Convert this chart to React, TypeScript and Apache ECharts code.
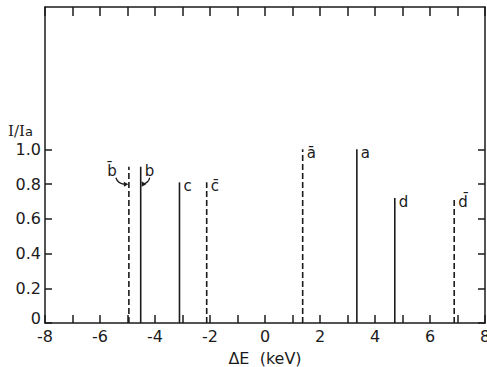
import React, { useEffect, useRef } from "react";
import * as echarts from "echarts";

// Line positions (keV), relative intensities, labels and line style
const energies = [-4.95, -4.52, -3.11, -2.12, 1.37, 3.34, 4.72, 6.88];
const intensities = [0.9, 0.9, 0.81, 0.81, 1.0, 1.0, 0.72, 0.72];
const lineLabels = ["b\u0304", "b", "c", "c\u0304", "a\u0304", "a", "d", "d\u0304"];
const isDashed = [true, false, false, true, true, false, false, true];

const yTicks = [0, 0.2, 0.4, 0.6, 0.8, 1.0];

const INK = "#1b1b1b";
const FONT = "DejaVu Sans";

export default function App() {
  const ref = useRef<HTMLDivElement>(null);
  useEffect(() => {
    if (!ref.current) return;
    const chart = echarts.init(ref.current, undefined, { renderer: "svg" });
    const data = energies.map((e, i) => [e, intensities[i]]);
    const axisLine = { show: true, onZero: false, lineStyle: { color: INK, width: 1.5 } };
    const tickStyle = { color: INK, width: 1.5 };
    chart.setOption({
      animation: false,
      backgroundColor: "#ffffff",
      grid: { left: 45, right: 2, top: 7, bottom: 44, outerBoundsMode: "none", containLabel: false },
      xAxis: [
        {
          type: "value",
          min: -8,
          max: 8,
          interval: 1,
          position: "bottom",
          axisLine,
          splitLine: { show: false },
          axisTick: { show: true, inside: true, length: 8, lineStyle: tickStyle },
          axisLabel: {
            show: true,
            margin: 5,
            color: INK,
            fontFamily: FONT,
            fontSize: 16,
            formatter: (v: number) => (Math.round(v) % 2 === 0 ? String(v) : ""),
          },
          name: "\u0394E  (keV)",
          nameLocation: "middle",
          nameGap: 27,
          nameTextStyle: { color: INK, fontFamily: FONT, fontSize: 16 },
        },
        {
          type: "value",
          min: -8,
          max: 8,
          interval: 1,
          position: "top",
          axisLine,
          splitLine: { show: false },
          axisTick: { show: true, inside: true, length: 9, lineStyle: tickStyle },
          axisLabel: { show: false },
        },
      ],
      yAxis: [
        {
          type: "value",
          min: 0,
          max: 1.82,
          position: "left",
          axisLine,
          splitLine: { show: false },
          axisTick: { show: true, inside: true, length: 7, customValues: yTicks, lineStyle: tickStyle },
          axisLabel: {
            show: true,
            customValues: yTicks,
            margin: 4,
            color: INK,
            fontFamily: FONT,
            fontSize: 16,
            formatter: (v: number) => (v === 0 ? "{z|0}" : v.toFixed(1)),
            rich: {
              z: { fontFamily: FONT, fontSize: 16, color: INK, padding: [0, 0, 9, 0] },
            },
          },
        },
        {
          type: "value",
          min: 0,
          max: 1.82,
          position: "right",
          axisLine,
          splitLine: { show: false },
          axisTick: { show: true, inside: true, length: 7, customValues: yTicks, lineStyle: tickStyle },
          axisLabel: { show: false },
        },
      ],
      graphic: [
        {
          type: "text",
          left: 8,
          top: 123,
          style: {
            text: "{n|I/I}{s|a}",
            rich: {
              n: { fontFamily: "DejaVu Serif", fontSize: 15, fill: INK, verticalAlign: "bottom" },
              s: { fontFamily: FONT, fontSize: 13, fill: INK, padding: [6, 0, 0, 0] },
            },
          },
        },
      ],
      series: [
        {
          type: "custom",
          xAxisIndex: 0,
          yAxisIndex: 0,
          data,
          clip: false,
          renderItem: (params: any, api: any) => {
            const i = params.dataIndex;
            const x = api.value(0);
            const y = api.value(1);
            const base = api.coord([x, 0]);
            const top = api.coord([x, y]);
            const dashed = isDashed[i];
            const children: any[] = [
              {
                type: "line",
                shape: { x1: base[0], y1: base[1], x2: top[0], y2: top[1] },
                style: {
                  stroke: INK,
                  lineWidth: 1.6,
                  lineDash: dashed ? [6, 3] : null,
                },
              },
            ];
            const label = lineLabels[i];
            const textStyle = (dx: number, align: string) => ({
              type: "text",
              style: {
                text: label,
                x: top[0] + dx,
                y: top[1] + 4,
                align,
                verticalAlign: "middle",
                fontFamily: FONT,
                fontSize: 15,
                fill: INK,
              },
            });
            if (i === 0) {
              children.push(textStyle(-12, "right"));
              children.push({
                type: "bezierCurve",
                shape: {
                  x1: top[0] - 13, y1: top[1] + 11,
                  x2: top[0] - 3, y2: top[1] + 17.5,
                  cpx1: top[0] - 11, cpy1: top[1] + 17.5,
                },
                style: { stroke: INK, lineWidth: 1.3, fill: null },
              });
              children.push({
                type: "polygon",
                shape: {
                  points: [
                    [top[0] - 0.5, top[1] + 17.5],
                    [top[0] - 5, top[1] + 15],
                    [top[0] - 5, top[1] + 20],
                  ],
                },
                style: { fill: INK },
              });
            } else if (i === 1) {
              children.push(textStyle(4, "left"));
              children.push({
                type: "bezierCurve",
                shape: {
                  x1: top[0] + 9, y1: top[1] + 11,
                  x2: top[0] + 2.5, y2: top[1] + 17.5,
                  cpx1: top[0] + 8, cpy1: top[1] + 16,
                },
                style: { stroke: INK, lineWidth: 1.3, fill: null },
              });
              children.push({
                type: "polygon",
                shape: {
                  points: [
                    [top[0] + 1, top[1] + 20],
                    [top[0] + 1, top[1] + 14.5],
                    [top[0] + 5.5, top[1] + 17.5],
                  ],
                },
                style: { fill: INK },
              });
            } else {
              children.push(textStyle(4, "left"));
            }
            return { type: "group", children };
          },
        },
      ],
    });
    return () => chart.dispose();
  }, []);
  return (
    <div
      ref={ref}
      style={{ position: "fixed", left: 0, top: 0, width: 487, height: 367, background: "#fff" }}
    />
  );
}
